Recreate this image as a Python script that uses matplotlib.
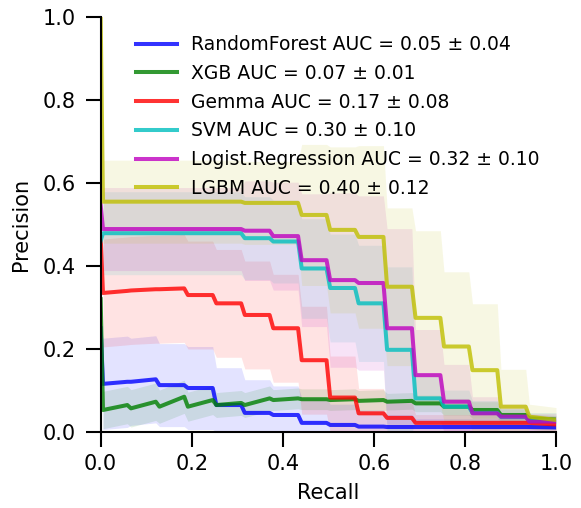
import matplotlib

matplotlib.use("Agg")

import matplotlib.pyplot as plt  # noqa: E402
import numpy as np  # noqa: E402

# recall grid: the curves change level on sixteenths of recall
RECALL_EDGES = [0.0, 0.0625, 0.125, 0.1875, 0.25, 0.3125, 0.375, 0.4375,
                0.5, 0.5625, 0.625, 0.6875, 0.75, 0.8125, 0.875, 0.9375, 1.0]
FIRST_STEP = 0.005   # where the precision drops from its value at recall 0
STEP_HALF = 0.004    # steps are slightly slanted (interpolated grid)

MODELS = ["RandomForest", "XGB", "Gemma", "SVM", "Logist.Regression", "LGBM"]
AUC_MEAN = [0.05, 0.07, 0.17, 0.30, 0.32, 0.40]
AUC_STD = [0.04, 0.01, 0.08, 0.10, 0.10, 0.12]
COLORS = ["b", "g", "r", "c", "m", "y"]

# precision at recall 0
P0 = [0.25, 0.32, 0.47, 0.46, 0.547, 1.0]

# precision at the start / end of each recall interval, and its std
RF_START = [0.116, 0.121, 0.113, 0.106, 0.065, 0.046, 0.041, 0.022,
            0.017, 0.013, 0.012, 0.012, 0.012, 0.012, 0.012, 0.012]
RF_END = [0.121, 0.127, 0.113, 0.106, 0.065, 0.046, 0.041, 0.022,
          0.017, 0.013, 0.012, 0.012, 0.012, 0.012, 0.012, 0.011]
RF_STD = [0.11, 0.105, 0.10, 0.10, 0.09, 0.08, 0.07, 0.06,
          0.05, 0.04, 0.03, 0.02, 0.02, 0.02, 0.02, 0.02]

XGB_START = [0.053, 0.057, 0.061, 0.061, 0.065, 0.065, 0.077, 0.079,
             0.077, 0.075, 0.073, 0.069, 0.061, 0.053, 0.041, 0.033]
XGB_END = [0.065, 0.073, 0.085, 0.077, 0.070, 0.081, 0.081, 0.079,
           0.079, 0.077, 0.075, 0.069, 0.061, 0.053, 0.041, 0.030]
XGB_STD = [0.045, 0.045, 0.04, 0.035, 0.03, 0.03, 0.025, 0.025,
           0.025, 0.025, 0.02, 0.02, 0.02, 0.02, 0.015, 0.01]

GEMMA_START = [0.335, 0.341, 0.344, 0.330, 0.310, 0.282, 0.250, 0.173,
               0.083, 0.045, 0.034, 0.022, 0.022, 0.022, 0.022, 0.022]
GEMMA_END = [0.340, 0.344, 0.346, 0.330, 0.310, 0.282, 0.250, 0.173,
             0.083, 0.045, 0.034, 0.022, 0.022, 0.022, 0.022, 0.018]
GEMMA_STD = [0.13, 0.13, 0.13, 0.13, 0.13, 0.13, 0.13, 0.13,
             0.10, 0.06, 0.04, 0.02, 0.02, 0.02, 0.02, 0.02]

SVM_LEVEL = [0.479, 0.479, 0.479, 0.479, 0.479, 0.467, 0.459, 0.394,
             0.347, 0.310, 0.198, 0.081, 0.061, 0.046, 0.036, 0.027]
SVM_STD = [0.10, 0.10, 0.10, 0.10, 0.10, 0.10, 0.10, 0.12,
           0.13, 0.14, 0.20, 0.06, 0.04, 0.03, 0.02, 0.02]

LR_LEVEL = [0.489, 0.489, 0.489, 0.489, 0.489, 0.485, 0.472, 0.414,
            0.366, 0.359, 0.250, 0.137, 0.073, 0.045, 0.037, 0.025]
LR_STD = [0.10, 0.10, 0.10, 0.10, 0.10, 0.12, 0.13, 0.16,
          0.21, 0.21, 0.24, 0.11, 0.09, 0.04, 0.03, 0.02]

LGBM_START = [0.555, 0.555, 0.555, 0.555, 0.555, 0.552, 0.552, 0.523,
              0.487, 0.470, 0.350, 0.275, 0.206, 0.149, 0.061, 0.037]
LGBM_END = [0.555, 0.555, 0.555, 0.555, 0.555, 0.552, 0.552, 0.523,
            0.487, 0.470, 0.350, 0.275, 0.206, 0.149, 0.061, 0.029]
LGBM_STD = [0.10, 0.10, 0.10, 0.10, 0.10, 0.10, 0.10, 0.17,
            0.20, 0.22, 0.19, 0.21, 0.18, 0.16, 0.09, 0.03]

STARTS = [RF_START, XGB_START, GEMMA_START, SVM_LEVEL, LR_LEVEL, LGBM_START]
ENDS = [RF_END, XGB_END, GEMMA_END, SVM_LEVEL, LR_LEVEL, LGBM_END]
STDS = [RF_STD, XGB_STD, GEMMA_STD, SVM_STD, LR_STD, LGBM_STD]


def _curve(p0, start, end, std):
    """Piecewise curve: level moves linearly inside an interval, jumps at edges."""
    n = len(start)
    xs, ys, ss = [0.0], [p0], [std[0]]
    for k in range(n):
        left = FIRST_STEP if k == 0 else RECALL_EDGES[k] + STEP_HALF
        right = RECALL_EDGES[k + 1] - (STEP_HALF if k < n - 1 else 0.0)
        xs += [left, right]
        ys += [start[k], end[k]]
        ss += [std[k], std[k]]
    return np.array(xs), np.array(ys), np.array(ss)


fig = plt.figure(figsize=(5.81, 5.08), dpi=100)
ax = fig.add_axes([0.1733, 0.1496, 0.7837, 0.817])

for name, col, p0, st, en, sd, m, s in zip(MODELS, COLORS, P0, STARTS, ENDS,
                                           STDS, AUC_MEAN, AUC_STD):
    x, y, e = _curve(p0, st, en, sd)
    ax.fill_between(x[1:], np.clip(y[1:] - e[1:], 0, 1),
                    np.clip(y[1:] + e[1:], 0, 1),
                    color=col, alpha=0.11, lw=0)
    ax.plot(x, y, color=col, alpha=0.8, lw=2.9,
            label=f"{name} AUC = {m:.2f} ± {s:.2f}")

ax.set_xlim(0, 1)
ax.set_ylim(0, 1)
ax.set_xticks([0, 0.2, 0.4, 0.6, 0.8, 1.0])
ax.set_yticks([0, 0.2, 0.4, 0.6, 0.8, 1.0])
ax.set_xlabel("Recall", fontsize=15, labelpad=6)
ax.set_ylabel("Precision", fontsize=15, labelpad=8)
ax.tick_params(labelsize=15, length=11, width=1.5, direction="out")
ax.tick_params(axis="x", pad=5)
ax.tick_params(axis="y", pad=7)
for side in ("top", "right"):
    ax.spines[side].set_visible(False)
for side in ("left", "bottom"):
    ax.spines[side].set_linewidth(1.5)

ax.legend(loc="upper left", bbox_to_anchor=(0.04, 0.997), frameon=False,
          fontsize=13.5, handlelength=2.2, handletextpad=0.72,
          labelspacing=0.52)

fig.savefig("out.png", dpi=100)
